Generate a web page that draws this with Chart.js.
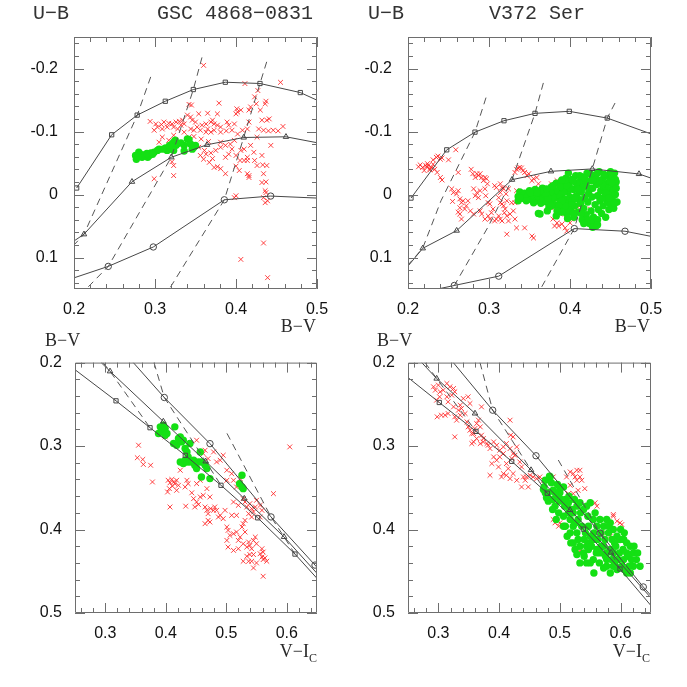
<!DOCTYPE html>
<html>
<head>
<meta charset="utf-8">
<script src="https://cdn.jsdelivr.net/npm/chart.js@4.4.0/dist/chart.umd.min.js"></script>
<style>
  body { margin: 0; background: #fff; }
  #wrap { position: relative; width: 687px; height: 687px; overflow: hidden; }
  canvas { position: absolute; }
  .lab { position: absolute; white-space: nowrap; color: #2a2a2a; line-height: 1; }
  .mono { font-family: "Liberation Mono", monospace; font-size: 20px; color: #333; }
  .serif { font-family: "Liberation Serif", serif; font-size: 18px; }
  .sub { font-size: 12px; position: relative; top: 5px; }
</style>
</head>
<body>
<div id="wrap">
  <canvas id="tl" width="340" height="340" style="left:0;top:0"></canvas>
  <canvas id="tr" width="347" height="340" style="left:340px;top:0"></canvas>
  <canvas id="bl" width="340" height="347" style="left:0;top:340px"></canvas>
  <canvas id="br" width="347" height="347" style="left:340px;top:340px"></canvas>

  <div class="lab mono" style="left:33px;top:4px">U−B</div>
  <div class="lab mono" style="left:157px;top:4px">GSC 4868−0831</div>
  <div class="lab mono" style="left:368px;top:4px">U−B</div>
  <div class="lab mono" style="left:489px;top:4px">V372 Ser</div>

  <div class="lab serif" style="right:371px;top:317px">B−V</div>
  <div class="lab serif" style="right:37px;top:317px">B−V</div>
  <div class="lab serif" style="left:45px;top:331px">B−V</div>
  <div class="lab serif" style="left:377px;top:331px">B−V</div>
  <div class="lab serif" style="right:370px;top:642px">V−I<span class="sub">C</span></div>
  <div class="lab serif" style="right:37px;top:642px">V−I<span class="sub">C</span></div>
</div>
<script>
// tick labels
const ubTicks = [-0.2, -0.1, 0, 0.1];
const ubLabels = ['-0.2', '-0.1', '0', '0.1'];
const bvTopTicks = [0.2, 0.3, 0.4, 0.5];
const bvTopLabels = ['0.2', '0.3', '0.4', '0.5'];
const bvTicks = [0.2, 0.3, 0.4, 0.5];
const bvLabels = ['0.2', '0.3', '0.4', '0.5'];
const viTicks = [0.3, 0.4, 0.5, 0.6];
const viLabels = ['0.3', '0.4', '0.5', '0.6'];

// model sequences: [x, y, marked]
const tlSquares = [[0.2033,-0.0103,1],[0.2465,-0.0948,1],[0.278,-0.126,1],[0.3127,-0.148,1],[0.3473,-0.1666,1],[0.3868,-0.1782,1],[0.4296,-0.1762,1],[0.4794,-0.1618,1],[0.5004,-0.1495,0]];
const tlTriangles = [[0.2,0.0738,0],[0.2123,0.0631,1],[0.2716,-0.0203,1],[0.3201,-0.0591,1],[0.3642,-0.0789,1],[0.4095,-0.0905,1],[0.4617,-0.0916,1],[0.5004,-0.0821,0]];
const tlCircles = [[0.2,0.1323,0],[0.2423,0.1141,1],[0.2979,0.0833,1],[0.3856,0.0084,1],[0.4428,0.0025,1],[0.5004,0.0057,0]];
const tlDash1 = [[0.2947,-0.1867],[0.2781,-0.126],[0.2123,0.0631],[0.2,0.0801]];
const tlDash2 = [[0.358,-0.2176],[0.3473,-0.1666],[0.3201,-0.0591],[0.2423,0.1141],[0.2144,0.1508]];
const tlDash3 = [[0.4379,-0.2106],[0.4296,-0.1762],[0.4095,-0.0905],[0.3856,0.0084],[0.3173,0.1508]];

const trSquares = [[0.2037,0.0057,1],[0.2478,-0.0709,1],[0.2827,-0.099,1],[0.3185,-0.1171,1],[0.3568,-0.1288,1],[0.3991,-0.132,1],[0.446,-0.1213,1],[0.4996,-0.0964,0]];
const trTriangles = [[0.2,0.1136,0],[0.2182,0.0854,1],[0.2601,0.0573,1],[0.3284,-0.0235,1],[0.3765,-0.0368,1],[0.4275,-0.0406,1],[0.4852,-0.0326,1],[0.4996,-0.0262,0]];
const trCircles = [[0.2,0.16,0],[0.2572,0.1444,1],[0.312,0.1296,1],[0.4053,0.0541,1],[0.4679,0.0583,1],[0.4996,0.0663,0]];
const trDash1 = [[0.2963,-0.1538],[0.2827,-0.099],[0.2407,0.01],[0.2181,0.0854],[0.2,0.112]];
const trDash2 = [[0.3671,-0.1771],[0.3568,-0.1288],[0.3284,-0.0235],[0.2984,0.0525],[0.2572,0.1444],[0.2519,0.1524]];
const trDash3 = [[0.4556,-0.1452],[0.446,-0.1213],[0.4275,-0.0406],[0.4053,0.0541],[0.363,0.1514]];

const blSquares = [[0.25,0.2085,0],[0.3178,0.2458,1],[0.374,0.278,1],[0.4323,0.3111,1],[0.4913,0.347,1],[0.552,0.386,1],[0.6136,0.4294,1],[0.65,0.4585,0]];
const blTriangles = [[0.2933,0.2,0],[0.3079,0.2104,1],[0.396,0.2705,1],[0.466,0.3183,1],[0.5298,0.3629,1],[0.5955,0.4088,1],[0.65,0.4525,0]];
const blCircles = [[0.3464,0.2,0],[0.3976,0.2418,1],[0.4731,0.2971,1],[0.574,0.3849,1],[0.6467,0.4426,1],[0.65,0.4452,0]];
const blDash1 = [[0.2963,0.2],[0.3079,0.2104],[0.374,0.278]];
const blDash2 = [[0.3806,0.2],[0.3976,0.2418],[0.466,0.3183],[0.4913,0.347]];
const blDash3 = [[0.5012,0.2848],[0.574,0.3849],[0.5955,0.4088],[0.6136,0.4294]];

const brSquares = [[0.25,0.2179,0],[0.3015,0.2478,1],[0.3619,0.2824,1],[0.4207,0.3183,1],[0.4793,0.3565,1],[0.5386,0.3995,1],[0.599,0.4473,1],[0.65,0.4912,0]];
const brTriangles = [[0.2726,0.2,0],[0.2972,0.2191,1],[0.3603,0.2609,1],[0.4525,0.3287,1],[0.5167,0.3765,1],[0.5842,0.4275,1],[0.65,0.482,0]];
const brCircles = [[0.3246,0.2,0],[0.3894,0.257,1],[0.4607,0.3116,1],[0.5661,0.4043,1],[0.6373,0.4688,1],[0.65,0.4792,0]];
const brDash1 = [[0.278,0.2],[0.2972,0.2191],[0.3619,0.2824]];
const brDash2 = [[0.3685,0.2],[0.3894,0.257],[0.4525,0.3287],[0.4793,0.3565]];
const brDash3 = [[0.4974,0.3167],[0.5661,0.4043],[0.5842,0.4275],[0.599,0.4473]];

// observations
const tlRed = [[0.360,-0.205],[0.411,-0.176],[0.342,-0.143],[0.345,-0.142],[0.379,-0.145],[0.401,-0.136],[0.416,-0.134],[0.377,-0.128],[0.365,-0.129],[0.354,-0.128],[0.340,-0.126],[0.344,-0.123],[0.294,-0.116],[0.301,-0.112],[0.308,-0.111],[0.311,-0.115],[0.317,-0.113],[0.321,-0.112],[0.326,-0.115],[0.330,-0.116],[0.334,-0.118],[0.336,-0.112],[0.323,-0.107],[0.315,-0.107],[0.309,-0.104],[0.303,-0.107],[0.299,-0.102],[0.328,-0.104],[0.332,-0.110],[0.346,-0.118],[0.350,-0.115],[0.344,-0.104],[0.348,-0.102],[0.352,-0.107],[0.358,-0.110],[0.363,-0.112],[0.369,-0.115],[0.373,-0.112],[0.371,-0.118],[0.377,-0.110],[0.381,-0.107],[0.389,-0.115],[0.391,-0.110],[0.398,-0.112],[0.400,-0.128],[0.402,-0.131],[0.406,-0.134],[0.365,-0.104],[0.369,-0.099],[0.363,-0.099],[0.356,-0.102],[0.373,-0.102],[0.381,-0.099],[0.388,-0.101],[0.395,-0.102],[0.402,-0.096],[0.408,-0.102],[0.414,-0.104],[0.416,-0.115],[0.418,-0.139],[0.342,-0.091],[0.348,-0.092],[0.336,-0.099],[0.309,-0.091],[0.305,-0.083],[0.317,-0.086],[0.323,-0.094],[0.342,-0.080],[0.350,-0.076],[0.354,-0.075],[0.361,-0.070],[0.369,-0.066],[0.375,-0.070],[0.381,-0.075],[0.387,-0.078],[0.393,-0.080],[0.398,-0.086],[0.381,-0.083],[0.391,-0.064],[0.387,-0.059],[0.400,-0.062],[0.406,-0.070],[0.410,-0.072],[0.414,-0.059],[0.414,-0.054],[0.418,-0.078],[0.360,-0.056],[0.356,-0.062],[0.363,-0.064],[0.367,-0.051],[0.377,-0.044],[0.381,-0.041],[0.373,-0.043],[0.387,-0.033],[0.400,-0.045],[0.405,-0.054],[0.410,-0.054],[0.404,-0.038],[0.414,-0.033],[0.416,-0.030],[0.416,-0.027],[0.323,-0.030],[0.299,-0.025],[0.398,0.005],[0.455,-0.178],[0.427,-0.165],[0.423,-0.155],[0.425,-0.144],[0.430,-0.134],[0.436,-0.144],[0.437,-0.148],[0.441,-0.120],[0.438,-0.118],[0.432,-0.118],[0.428,-0.104],[0.434,-0.102],[0.440,-0.101],[0.446,-0.102],[0.452,-0.101],[0.458,-0.108],[0.426,-0.091],[0.443,-0.078],[0.422,-0.067],[0.423,-0.054],[0.432,-0.062],[0.438,-0.046],[0.433,-0.047],[0.426,-0.046],[0.434,-0.033],[0.432,-0.019],[0.437,-0.020],[0.434,0.005],[0.436,0.013],[0.439,0.010],[0.436,-0.006],[0.437,-0.003],[0.434,0.077],[0.406,0.103],[0.439,0.132],[0.400,0.002],[0.321,-0.052],[0.323,-0.046],[0.357,-0.088],[0.366,-0.084],[0.395,-0.072],[0.371,-0.057]];
const tlGreen = [[0.276,-0.062],[0.277,-0.056],[0.280,-0.067],[0.282,-0.064],[0.284,-0.059],[0.286,-0.062],[0.288,-0.063],[0.291,-0.059],[0.293,-0.062],[0.295,-0.066],[0.299,-0.067],[0.303,-0.070],[0.305,-0.072],[0.313,-0.074],[0.315,-0.070],[0.319,-0.074],[0.321,-0.080],[0.323,-0.083],[0.326,-0.078],[0.328,-0.081],[0.321,-0.072],[0.323,-0.070],[0.336,-0.078],[0.340,-0.088],[0.342,-0.087],[0.348,-0.075],[0.350,-0.078],[0.336,-0.069],[0.346,-0.072],[0.279,-0.060],[0.290,-0.065],[0.297,-0.064],[0.310,-0.072],[0.318,-0.078],[0.325,-0.086],[0.332,-0.082],[0.344,-0.080]];

const trRed = [[0.213,-0.044],[0.215,-0.047],[0.218,-0.043],[0.220,-0.038],[0.222,-0.046],[0.224,-0.049],[0.227,-0.041],[0.231,-0.055],[0.235,-0.059],[0.240,-0.056],[0.259,-0.071],[0.237,-0.061],[0.242,-0.058],[0.225,-0.046],[0.229,-0.043],[0.231,-0.048],[0.233,-0.040],[0.227,-0.039],[0.223,-0.044],[0.236,-0.035],[0.240,-0.027],[0.242,-0.023],[0.250,-0.055],[0.254,-0.009],[0.256,-0.003],[0.260,-0.001],[0.262,-0.006],[0.262,-0.035],[0.264,0.007],[0.266,0.013],[0.268,0.010],[0.274,0.010],[0.272,0.018],[0.264,0.021],[0.270,0.023],[0.264,0.031],[0.266,0.039],[0.262,0.028],[0.255,0.011],[0.278,-0.040],[0.280,-0.033],[0.283,-0.027],[0.285,-0.033],[0.287,-0.030],[0.289,-0.033],[0.291,-0.027],[0.293,-0.022],[0.295,-0.027],[0.297,-0.025],[0.298,-0.017],[0.295,-0.009],[0.296,0.002],[0.289,-0.006],[0.285,-0.003],[0.281,-0.009],[0.283,0.002],[0.287,0.005],[0.289,0.026],[0.291,0.031],[0.299,0.013],[0.301,0.015],[0.307,-0.014],[0.309,-0.011],[0.314,-0.017],[0.316,-0.011],[0.318,-0.009],[0.321,-0.001],[0.322,0.010],[0.324,-0.009],[0.314,-0.003],[0.312,0.005],[0.314,0.013],[0.316,0.015],[0.318,0.018],[0.320,0.023],[0.319,0.029],[0.322,0.034],[0.305,0.023],[0.303,0.029],[0.301,0.039],[0.307,0.042],[0.309,0.039],[0.312,0.034],[0.314,0.039],[0.316,0.042],[0.324,0.042],[0.326,0.031],[0.332,0.039],[0.334,0.053],[0.330,0.026],[0.328,0.013],[0.332,0.013],[0.336,0.010],[0.338,-0.003],[0.334,-0.006],[0.340,-0.003],[0.342,-0.001],[0.344,0.005],[0.334,-0.040],[0.336,-0.042],[0.338,-0.043],[0.340,-0.042],[0.342,-0.038],[0.332,-0.035],[0.344,-0.035],[0.347,-0.030],[0.349,-0.033],[0.353,-0.022],[0.355,-0.025],[0.322,0.063],[0.344,0.053],[0.353,0.066],[0.355,0.069],[0.299,0.034],[0.281,0.031],[0.277,0.026],[0.295,0.039],[0.359,-0.027],[0.361,-0.017],[0.365,-0.009],[0.371,-0.011],[0.377,-0.017],[0.384,-0.014],[0.384,-0.022],[0.379,-0.006],[0.375,-0.003],[0.381,0.015],[0.384,0.031],[0.388,0.026],[0.392,0.029],[0.396,0.034],[0.379,0.039],[0.381,0.050],[0.386,0.050],[0.390,0.047],[0.394,0.053],[0.396,0.058],[0.400,0.045],[0.402,0.039],[0.404,0.031],[0.408,0.026],[0.445,0.005],[0.449,0.007],[0.451,0.010],[0.453,0.005],[0.425,0.023],[0.421,0.031],[0.416,0.026],[0.412,0.018],[0.410,0.014],[0.408,0.016],[0.414,0.020],[0.400,0.031],[0.396,0.039],[0.388,0.031],[0.384,0.045],[0.381,0.021]];
const trGreen = [[0.336,0.003],[0.338,-0.004],[0.341,0.006],[0.344,-0.002],[0.347,0.003],[0.350,-0.006],[0.352,0.008],[0.355,0.001],[0.357,-0.008],[0.359,0.010],[0.361,0.004],[0.362,-0.003],[0.364,0.014],[0.366,-0.010],[0.367,0.006],[0.369,0.000],[0.371,0.012],[0.372,-0.006],[0.374,0.020],[0.375,0.003],[0.377,-0.012],[0.378,0.009],[0.380,-0.002],[0.381,0.016],[0.383,-0.018],[0.384,0.005],[0.385,0.026],[0.387,-0.008],[0.388,0.012],[0.389,-0.020],[0.390,0.002],[0.392,0.020],[0.393,-0.012],[0.394,0.008],[0.395,-0.026],[0.396,0.030],[0.397,-0.004],[0.398,0.014],[0.399,-0.016],[0.400,0.004],[0.401,0.024],[0.402,-0.024],[0.403,0.010],[0.404,-0.008],[0.405,0.036],[0.406,0.018],[0.407,-0.030],[0.408,0.002],[0.409,-0.014],[0.410,0.028],[0.411,0.008],[0.412,-0.020],[0.413,0.014],[0.414,-0.004],[0.415,0.040],[0.416,-0.028],[0.417,0.022],[0.418,0.006],[0.419,-0.012],[0.420,0.032],[0.421,-0.034],[0.422,0.012],[0.423,-0.002],[0.424,0.046],[0.425,-0.022],[0.426,0.026],[0.427,0.004],[0.428,-0.010],[0.429,0.036],[0.430,-0.030],[0.431,0.016],[0.432,0.050],[0.433,-0.016],[0.434,0.002],[0.435,0.024],[0.436,-0.036],[0.437,0.010],[0.438,-0.006],[0.439,0.030],[0.440,-0.024],[0.441,0.018],[0.442,-0.012],[0.443,0.004],[0.444,0.036],[0.445,-0.030],[0.446,0.012],[0.447,-0.018],[0.448,0.024],[0.449,-0.004],[0.450,0.016],[0.451,-0.026],[0.452,0.006],[0.453,-0.012],[0.454,0.022],[0.455,-0.034],[0.456,0.000],[0.457,-0.020],[0.458,0.012],[0.445,-0.010],[0.447,0.000],[0.449,-0.022],[0.452,-0.030],[0.454,-0.008],[0.440,-0.016],[0.436,-0.022],[0.432,-0.026],[0.428,-0.022],[0.424,-0.010],[0.420,-0.018],[0.416,-0.012],[0.412,-0.030],[0.408,-0.018],[0.404,-0.022],[0.400,-0.010],[0.396,-0.014],[0.392,-0.004],[0.388,-0.012],[0.386,0.000],[0.382,-0.006],[0.379,0.004],[0.376,-0.004],[0.373,0.006],[0.370,-0.002],[0.456,-0.024],[0.450,-0.036],[0.442,-0.032],[0.434,-0.034],[0.426,-0.032],[0.418,-0.026],[0.410,-0.008],[0.406,0.006],[0.402,0.016],[0.398,0.024],[0.394,0.018],[0.390,0.010],[0.386,0.018],[0.397,0.038],[0.404,0.030],[0.414,0.030],[0.422,0.040],[0.428,0.046],[0.434,0.040],[0.440,0.006],[0.444,-0.002],[0.448,0.006],[0.452,-0.018],[0.457,-0.010],[0.455,0.014],[0.361,0.030],[0.372,0.026],[0.383,0.034],[0.390,0.028],[0.417,0.046],[0.428,0.052],[0.434,0.048],[0.346,0.010],[0.398,-0.034],[0.394,-0.023],[0.390,-0.023],[0.379,-0.014],[0.371,-0.009],[0.363,-0.006],[0.359,-0.003],[0.351,-0.003],[0.336,0.010],[0.338,0.005],[0.355,0.013],[0.363,0.031],[0.377,0.018],[0.384,0.026]];

const blRed = [[0.355,0.299],[0.353,0.314],[0.362,0.316],[0.363,0.322],[0.375,0.323],[0.378,0.343],[0.404,0.341],[0.407,0.344],[0.410,0.340],[0.413,0.343],[0.415,0.345],[0.418,0.341],[0.421,0.347],[0.411,0.348],[0.406,0.351],[0.418,0.353],[0.403,0.355],[0.424,0.329],[0.435,0.341],[0.437,0.345],[0.432,0.349],[0.443,0.356],[0.446,0.363],[0.451,0.367],[0.454,0.370],[0.457,0.361],[0.462,0.359],[0.465,0.373],[0.468,0.377],[0.470,0.381],[0.473,0.361],[0.474,0.375],[0.479,0.377],[0.481,0.373],[0.484,0.377],[0.487,0.385],[0.490,0.383],[0.495,0.387],[0.470,0.389],[0.465,0.393],[0.473,0.391],[0.407,0.373],[0.433,0.372],[0.448,0.373],[0.451,0.345],[0.457,0.341],[0.468,0.351],[0.484,0.319],[0.490,0.317],[0.495,0.311],[0.479,0.307],[0.462,0.309],[0.451,0.293],[0.501,0.329],[0.509,0.333],[0.501,0.341],[0.512,0.341],[0.517,0.349],[0.523,0.339],[0.512,0.367],[0.520,0.371],[0.528,0.363],[0.531,0.367],[0.534,0.373],[0.539,0.369],[0.542,0.375],[0.545,0.379],[0.537,0.381],[0.542,0.385],[0.548,0.373],[0.550,0.365],[0.556,0.371],[0.559,0.377],[0.578,0.357],[0.556,0.385],[0.531,0.389],[0.517,0.383],[0.509,0.383],[0.501,0.397],[0.503,0.401],[0.506,0.407],[0.512,0.405],[0.517,0.403],[0.523,0.409],[0.520,0.413],[0.528,0.417],[0.534,0.421],[0.537,0.415],[0.539,0.419],[0.542,0.423],[0.545,0.413],[0.548,0.409],[0.550,0.417],[0.556,0.429],[0.559,0.433],[0.561,0.436],[0.564,0.434],[0.567,0.438],[0.559,0.423],[0.561,0.427],[0.545,0.430],[0.539,0.430],[0.534,0.432],[0.537,0.438],[0.542,0.438],[0.550,0.440],[0.528,0.438],[0.520,0.423],[0.501,0.413],[0.503,0.421],[0.512,0.425],[0.545,0.446],[0.561,0.456],[0.526,0.397],[0.528,0.393],[0.531,0.403],[0.498,0.377],[0.605,0.301],[0.391,0.285],[0.399,0.289],[0.424,0.293],[0.470,0.315],[0.465,0.305]];
const blGreen = [[0.391,0.277],[0.393,0.281],[0.396,0.275],[0.399,0.279],[0.388,0.285],[0.402,0.285],[0.399,0.287],[0.415,0.277],[0.413,0.297],[0.418,0.299],[0.421,0.291],[0.424,0.289],[0.429,0.293],[0.426,0.295],[0.432,0.303],[0.435,0.307],[0.440,0.297],[0.437,0.313],[0.424,0.319],[0.429,0.321],[0.432,0.317],[0.435,0.319],[0.440,0.319],[0.446,0.317],[0.448,0.323],[0.451,0.327],[0.454,0.319],[0.457,0.307],[0.459,0.319],[0.465,0.323],[0.468,0.327],[0.459,0.337],[0.473,0.339],[0.526,0.335],[0.522,0.345],[0.526,0.349],[0.528,0.351]];

const brRed = [[0.292,0.229],[0.295,0.233],[0.300,0.227],[0.303,0.235],[0.302,0.241],[0.297,0.245],[0.308,0.233],[0.314,0.225],[0.319,0.229],[0.325,0.231],[0.327,0.235],[0.322,0.239],[0.314,0.241],[0.316,0.247],[0.298,0.265],[0.305,0.263],[0.311,0.263],[0.316,0.261],[0.325,0.253],[0.327,0.265],[0.330,0.269],[0.333,0.257],[0.336,0.251],[0.338,0.255],[0.341,0.243],[0.349,0.241],[0.352,0.249],[0.344,0.261],[0.336,0.263],[0.347,0.271],[0.349,0.277],[0.352,0.281],[0.355,0.285],[0.358,0.285],[0.360,0.279],[0.363,0.273],[0.366,0.269],[0.369,0.277],[0.371,0.287],[0.374,0.291],[0.363,0.291],[0.358,0.295],[0.355,0.297],[0.369,0.297],[0.374,0.295],[0.380,0.297],[0.382,0.299],[0.385,0.303],[0.391,0.295],[0.396,0.299],[0.401,0.305],[0.407,0.301],[0.412,0.297],[0.418,0.303],[0.423,0.309],[0.407,0.309],[0.401,0.313],[0.396,0.317],[0.388,0.321],[0.391,0.313],[0.399,0.325],[0.412,0.321],[0.415,0.327],[0.421,0.315],[0.426,0.311],[0.434,0.319],[0.437,0.325],[0.440,0.337],[0.443,0.341],[0.445,0.337],[0.451,0.335],[0.456,0.337],[0.462,0.339],[0.437,0.349],[0.429,0.341],[0.423,0.333],[0.407,0.333],[0.412,0.335],[0.418,0.339],[0.404,0.337],[0.385,0.335],[0.327,0.289],[0.371,0.253],[0.418,0.269],[0.419,0.287],[0.423,0.289],[0.429,0.301],[0.448,0.349],[0.467,0.337],[0.473,0.341],[0.489,0.337],[0.495,0.347],[0.517,0.331],[0.522,0.333],[0.525,0.337],[0.528,0.341],[0.517,0.347],[0.533,0.337],[0.536,0.341],[0.541,0.351],[0.522,0.357],[0.530,0.353],[0.533,0.329],[0.558,0.368],[0.489,0.388],[0.492,0.392],[0.498,0.396],[0.517,0.404],[0.533,0.426],[0.594,0.390],[0.599,0.392],[0.588,0.384],[0.577,0.404],[0.583,0.408],[0.561,0.372],[0.511,0.337],[0.514,0.357],[0.500,0.392],[0.495,0.388],[0.588,0.382],[0.602,0.394],[0.528,0.329]];
const brGreen = [[0.483,0.336],[0.474,0.349],[0.476,0.356],[0.481,0.366],[0.489,0.353],[0.495,0.360],[0.500,0.356],[0.506,0.349],[0.500,0.366],[0.509,0.364],[0.511,0.372],[0.514,0.380],[0.506,0.384],[0.517,0.388],[0.522,0.380],[0.528,0.372],[0.533,0.368],[0.539,0.376],[0.544,0.372],[0.522,0.396],[0.528,0.404],[0.530,0.412],[0.533,0.420],[0.539,0.428],[0.544,0.420],[0.550,0.408],[0.547,0.396],[0.555,0.388],[0.561,0.396],[0.566,0.388],[0.572,0.396],[0.577,0.388],[0.583,0.392],[0.588,0.400],[0.594,0.408],[0.599,0.412],[0.605,0.412],[0.610,0.416],[0.616,0.420],[0.610,0.428],[0.605,0.436],[0.602,0.444],[0.594,0.448],[0.588,0.444],[0.583,0.452],[0.577,0.444],[0.572,0.446],[0.566,0.428],[0.561,0.424],[0.555,0.436],[0.550,0.440],[0.547,0.424],[0.572,0.420],[0.577,0.428],[0.583,0.424],[0.588,0.428],[0.621,0.428],[0.626,0.436],[0.632,0.444],[0.621,0.444],[0.616,0.452],[0.610,0.452],[0.594,0.436],[0.577,0.436],[0.555,0.412],[0.544,0.440],[0.533,0.440],[0.525,0.424],[0.517,0.404],[0.509,0.396],[0.498,0.380],[0.492,0.372],[0.489,0.364],[0.481,0.356],[0.484,0.337],[0.476,0.341],[0.492,0.356],[0.500,0.350],[0.514,0.368],[0.550,0.368],[0.530,0.388],[0.536,0.396],[0.542,0.404],[0.548,0.416],[0.556,0.404],[0.562,0.412],[0.568,0.404],[0.574,0.412],[0.580,0.404],[0.586,0.412],[0.592,0.420],[0.598,0.428],[0.604,0.424],[0.612,0.432],[0.618,0.436],[0.596,0.436],[0.590,0.416],[0.568,0.420],[0.560,0.428],[0.552,0.420],[0.540,0.412],[0.526,0.392],[0.520,0.376],[0.508,0.372],[0.502,0.364],[0.515,0.360],[0.524,0.364],[0.534,0.380],[0.546,0.384],[0.558,0.380],[0.580,0.396],[0.600,0.400],[0.606,0.404],[0.622,0.420],[0.628,0.428],[0.614,0.444],[0.590,0.440],[0.565,0.440],[0.575,0.432],[0.585,0.436],[0.596,0.446],[0.606,0.448],[0.556,0.452],[0.540,0.432],[0.528,0.430],[0.518,0.416],[0.512,0.408],[0.506,0.396],[0.494,0.388],[0.488,0.376],[0.496,0.346],[0.486,0.344],[0.478,0.362],[0.473,0.352],[0.522,0.416]];

Chart.defaults.font.family = '"Liberation Sans", Arial, sans-serif';

const pts = a => a.map(p => ({ x: p[0], y: p[1], m: p[2] }));

function panel(id, c) {
  const canvas = document.getElementById(id);
  const W = canvas.width, H = canvas.height;
  const frame = {
    id: 'frame',
    afterDatasetsDraw(chart) {
      const { ctx, chartArea: a, scales } = chart;
      ctx.save();
      ctx.strokeStyle = '#6e6e6e';
      ctx.lineWidth = 1;
      ctx.beginPath();
      ctx.rect(a.left + 0.5, a.top + 0.5, a.right - a.left - 1, a.bottom - a.top - 1);
      // inward ticks on all four sides, minor every 0.02
      for (let k = Math.ceil(c.xr[0] / 0.02 - 1e-6); k <= Math.floor(c.xr[1] / 0.02 + 1e-6); k++) {
        const p = Math.round(scales.x.getPixelForValue(k * 0.02)) + 0.5;
        const len = k % 5 === 0 ? 10 : 5;
        ctx.moveTo(p, a.bottom); ctx.lineTo(p, a.bottom - len);
        ctx.moveTo(p, a.top); ctx.lineTo(p, a.top + len);
      }
      for (let k = Math.ceil(c.yr[0] / 0.02 - 1e-6); k <= Math.floor(c.yr[1] / 0.02 + 1e-6); k++) {
        const p = Math.round(scales.y.getPixelForValue(k * 0.02)) + 0.5;
        const len = k % 5 === 0 ? 10 : 5;
        ctx.moveTo(a.left, p); ctx.lineTo(a.left + len, p);
        ctx.moveTo(a.right, p); ctx.lineTo(a.right - len, p);
      }
      ctx.stroke();
      ctx.restore();
    }
  };

  const curveSets = c.curves.map(cv => ({
    data: pts(cv.d),
    showLine: true,
    borderColor: '#474747',
    borderWidth: 1,
    pointStyle: cv.s,
    pointRadius: ctx => (ctx.raw && ctx.raw.m ? cv.r : 0),
    pointBorderColor: '#474747',
    pointBackgroundColor: 'rgba(0,0,0,0)',
    pointBorderWidth: 1,
    order: 0,
    clip: 0
  }));
  const dashSets = c.dashes.map(d => ({
    data: pts(d),
    showLine: true,
    borderColor: '#555',
    borderWidth: 1,
    borderDash: [7, 5],
    pointRadius: 0,
    order: 1,
    clip: 0
  }));

  new Chart(canvas, {
    type: 'scatter',
    data: {
      datasets: [
        ...curveSets,
        ...dashSets,
        { data: pts(c.green), pointStyle: 'circle', pointRadius: 3.7, pointBackgroundColor: '#14e014', pointBorderWidth: 0, order: 2, clip: 0 },
        { data: pts(c.red), pointStyle: 'crossRot', pointRadius: 3.4, pointBorderColor: 'rgba(255,35,35,0.85)', pointBorderWidth: 1, order: 3, clip: 0 }
      ]
    },
    options: {
      animation: false,
      responsive: false,
      devicePixelRatio: 1,
      events: [],
      layout: { padding: { left: 0, top: c.top, right: W - c.right, bottom: 0 } },
      plugins: { legend: { display: false }, tooltip: { enabled: false } },
      scales: {
        x: {
          type: 'linear', min: c.xr[0], max: c.xr[1],
          grid: { display: false, drawTicks: false },
          border: { display: false },
          ticks: { padding: 11, color: '#111', font: { size: 16 }, maxRotation: 0, autoSkip: false,
                   callback: (v, i) => c.xLabels[i] },
          afterBuildTicks: s => { s.ticks = c.xTicks.map(v => ({ value: v })); },
          afterFit: s => { s.height = H - c.bottom; }
        },
        y: {
          type: 'linear', reverse: true, min: c.yr[0], max: c.yr[1],
          grid: { display: false, drawTicks: false },
          border: { display: false },
          ticks: { padding: c.yPad, color: '#111', font: { size: 16 }, autoSkip: false,
                   callback: (v, i) => c.yLabels[i] },
          afterBuildTicks: s => { s.ticks = c.yTicks.map(v => ({ value: v })); },
          afterFit: s => { s.width = c.left; }
        }
      }
    },
    plugins: [frame]
  });
}

const shapes = (sq, tri, circ) => [
  { d: sq, s: 'rect', r: 3 },
  { d: tri, s: 'triangle', r: 3.2 },
  { d: circ, s: 'circle', r: 3.2 }
];

panel('tl', {
  left: 74, top: 37, right: 317, bottom: 289, yPad: 16,
  xr: [0.2, 0.5], yr: [-0.25, 0.15],
  xTicks: bvTopTicks, xLabels: bvTopLabels, yTicks: ubTicks, yLabels: ubLabels,
  curves: shapes(tlSquares, tlTriangles, tlCircles),
  dashes: [tlDash1, tlDash2, tlDash3],
  green: tlGreen, red: tlRed
});
panel('tr', {
  left: 68, top: 37, right: 311, bottom: 289, yPad: 16,
  xr: [0.2, 0.5], yr: [-0.25, 0.15],
  xTicks: bvTopTicks, xLabels: bvTopLabels, yTicks: ubTicks, yLabels: ubLabels,
  curves: shapes(trSquares, trTriangles, trCircles),
  dashes: [trDash1, trDash2, trDash3],
  green: trGreen, red: trRed
});
panel('bl', {
  left: 75, top: 22, right: 317, bottom: 273, yPad: 13,
  xr: [0.25, 0.65], yr: [0.2, 0.5],
  xTicks: viTicks, xLabels: viLabels, yTicks: bvTicks, yLabels: bvLabels,
  curves: shapes(blSquares, blTriangles, blCircles),
  dashes: [blDash1, blDash2, blDash3],
  green: blGreen, red: blRed
});
panel('br', {
  left: 68, top: 22, right: 311, bottom: 273, yPad: 13,
  xr: [0.25, 0.65], yr: [0.2, 0.5],
  xTicks: viTicks, xLabels: viLabels, yTicks: bvTicks, yLabels: bvLabels,
  curves: shapes(brSquares, brTriangles, brCircles),
  dashes: [brDash1, brDash2, brDash3],
  green: brGreen, red: brRed
});
</script>
</body>
</html>
